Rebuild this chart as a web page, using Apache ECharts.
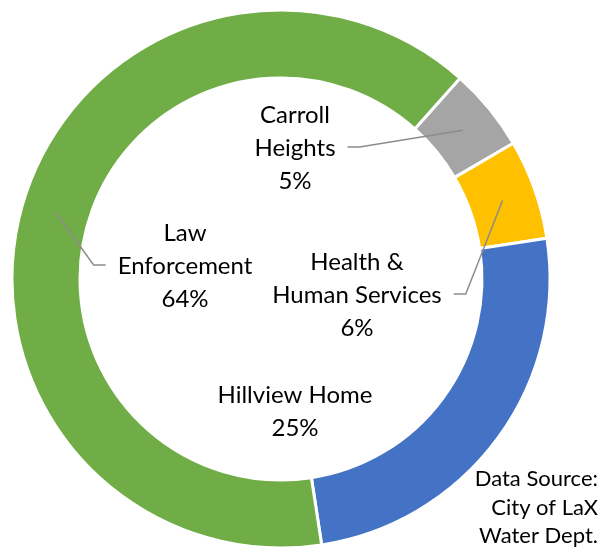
<!DOCTYPE html>
<html>
<head>
<meta charset="utf-8">
<script src="https://cdn.jsdelivr.net/npm/echarts@6/dist/echarts.min.js"></script>
<style>
  html, body { margin: 0; padding: 0; background: #fff; }
  #chart { width: 606px; height: 550px; }
</style>
</head>
<body>
<div id="chart"></div>
<script>
// slices in clockwise order, starting at the gray one
var categories = ['Carroll Heights', 'Health & Human Services', 'Hillview Home', 'Law Enforcement']
var labelNames = ['Carroll\nHeights', 'Health &\nHuman Services', 'Hillview Home', 'Law\nEnforcement']
var values = [5, 6, 25, 64]
var colors = ['#A5A5A5', '#FFC000', '#4472C4', '#70AD47']
var sourceLines = ['Data Source:', 'City of LaX', 'Water Dept.']

// label centres, offset from the donut centre
var labelOffsets = [[14, -131], [76, 16], [14, 133], [-96, -13]]
var showLeader = [true, true, false, true]

var cx = 281, cy = 279
var chart = echarts.init(document.getElementById('chart'))

function labelLayout(params) {
    var i = params.dataIndex
    var off = labelOffsets[i]
    var x = cx + off[0], y = cy + off[1]
    var res = { x: x, y: y, align: 'center', verticalAlign: 'middle' }
    if (!showLeader[i]) return res
    var lay = chart.getModel().getSeriesByIndex(1).getData().getItemLayout(i)
    var mid = (lay.startAngle + lay.endAngle) / 2
    var rm = (lay.r + lay.r0) / 2
    var ax = lay.cx + rm * Math.cos(mid), ay = lay.cy + rm * Math.sin(mid)
    var halfW = params.labelRect.width / 2
    var dir = ax > x ? 1 : -1
    var endX = x + dir * (halfW + 12)
    var elbowX = endX + dir * 12
    res.labelLinePoints = [[ax, ay], [elbowX, y - 1], [endX, y - 1]]
    return res
}

var common = {
    type: 'pie',
    center: [cx, cy],
    radius: [201, 269],
    startAngle: 48.3,
    clockwise: true,
    avoidLabelOverlap: false,
    emphasis: { disabled: true }
}

var option = {
    backgroundColor: '#fff',
    animation: false,
    graphic: sourceLines.map(function (line, i) {
        return {
            type: 'text',
            x: 598,
            y: 468 + i * 28.5,
            style: {
                text: line,
                font: '22px Lato',
                fill: '#000',
                align: 'right',
                verticalAlign: 'top'
            }
        }
    }),
    series: [
        // the coloured ring
        Object.assign({}, common, {
            z: 1,
            itemStyle: { borderColor: '#fff', borderWidth: 3 },
            label: { show: false },
            labelLine: { show: false },
            data: categories.map(function (name, i) {
                return { name: name, value: values[i], itemStyle: { color: colors[i] } }
            })
        }),
        // same slices, see-through, carrying labels and leader lines above the ring
        Object.assign({}, common, {
            z: 3,
            itemStyle: { color: 'rgba(0,0,0,0)', borderWidth: 0 },
            label: {
                show: true,
                position: 'outside',
                fontFamily: 'Lato',
                fontSize: 24,
                lineHeight: 33,
                color: '#000',
                formatter: function (p) {
                    return labelNames[p.dataIndex] + '\n' + Math.round(p.percent) + '%'
                }
            },
            labelLine: {
                show: true,
                lineStyle: { color: '#8c8c8c', width: 1.5 }
            },
            labelLayout: labelLayout,
            data: categories.map(function (name, i) {
                return {
                    name: name,
                    value: values[i],
                    labelLine: { show: showLeader[i] }
                }
            })
        })
    ]
}

chart.setOption(option)
</script>
</body>
</html>
